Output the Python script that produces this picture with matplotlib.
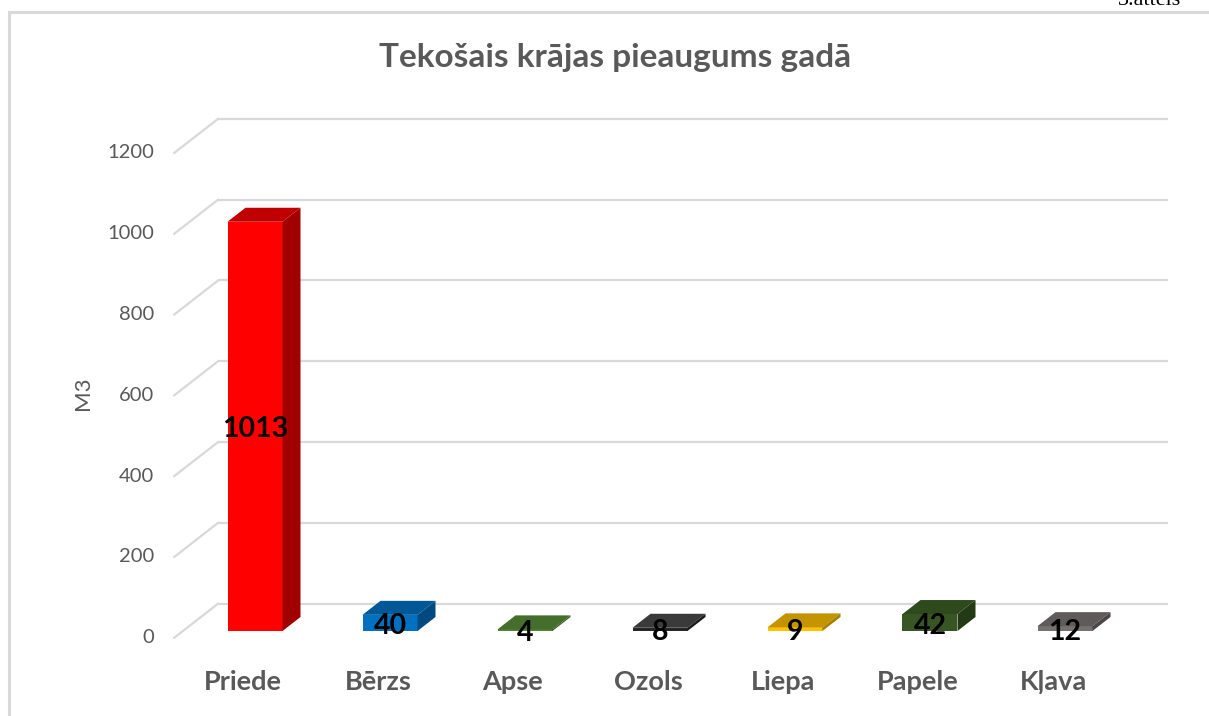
import matplotlib
matplotlib.use("Agg")
import matplotlib.pyplot as plt
from matplotlib.patches import Polygon, Rectangle

# dati
species = ["Priede", "Bērzs", "Apse", "Ozols", "Liepa", "Papele", "Kļava"]
volumes = [1013, 40, 4, 8, 9, 42, 12]
yticks = [0, 200, 400, 600, 800, 1000, 1200]

front_colors = ["#ff0000", "#0070c0", "#548235", "#262626", "#ffc000", "#375623", "#767171"]
top_colors = ["#c00000", "#005896", "#456d2b", "#3a3a3a", "#c49400", "#2e4a1d", "#5f5b5b"]
side_colors = ["#a00000", "#004a80", "#3a5c24", "#1a1a1a", "#a87f00", "#243a17", "#4a4747"]

# geometrija (pikseli -> datu vienibas)
W, H = 1209, 716
X0, STEP = 255, 135          # pirmā stabiņa centrs, solis
Y0, SCALE = 631, 0.404       # nulles līnija, px uz vienību
DX = 18 / STEP               # dziļums pa x
DY = 14 / SCALE              # dziļums pa y
BW = 55 / STEP               # stabiņa platums
D_FRONT, D_BACK = -0.48, 1.95
X_LEFT = (218 - X0) / STEP - D_BACK * DX
X_RIGHT = (1168 - X0) / STEP
GRID = "#d9d9d9"
TXT = "#595959"

plt.rcParams['font.family'] = ['Lato', 'DejaVu Sans']

fig = plt.figure(figsize=(W / 100, H / 100), dpi=100)
ax = fig.add_axes([0, 0, 1, 1])
ax.set_xlim(-X0 / STEP, (W - X0) / STEP)
ax.set_ylim((Y0 - H) / SCALE, Y0 / SCALE)
ax.axis('off')

# rāmis
fig.patches.append(Rectangle((9 / W, -0.05), 1.1, 1 - 12 / H + 0.05, transform=fig.transFigure,
                             fill=False, edgecolor=GRID, linewidth=2.2))
# augšējā labajā stūrī nogriezts paraksts (kā oriģinālā)
fig.text(1118 / W, 1 - 5 / H, "3.attēls", fontsize=16, family='Liberation Serif',
         ha='left', va='baseline', color='black')

# režģis uz aizmugurējās sienas + slīpās līnijas
for v in yticks:
    xb = X_LEFT + D_BACK * DX
    yb = v + D_BACK * DY
    ax.plot([xb, X_RIGHT], [yb, yb], color=GRID, lw=1.6, zorder=1, solid_capstyle='butt')
    ax.plot([X_LEFT + D_FRONT * DX, xb], [v + D_FRONT * DY, yb], color=GRID, lw=1.6, zorder=1)
    ax.text(X_LEFT + D_FRONT * DX - 20 / STEP, v + D_FRONT * DY, str(v), fontsize=14.5,
            color=TXT, ha='right', va='center')

ax.text(-(255 - 83) / STEP, (Y0 - 393) / SCALE, "M3", fontsize=16, color=TXT,
        rotation=90, ha='center', va='center')

# stabiņi
for i, v in enumerate(volumes):
    l, r = i - BW / 2, i + BW / 2
    ax.bar(i, v, width=BW, color=front_colors[i], zorder=3, linewidth=0)
    top = Polygon([(l, v), (r, v), (r + DX, v + DY), (l + DX, v + DY)], closed=True,
                  facecolor=top_colors[i], edgecolor='none', zorder=3)
    side = Polygon([(r, 0), (r + DX, DY), (r + DX, v + DY), (r, v)], closed=True,
                   facecolor=side_colors[i], edgecolor='none', zorder=3)
    ax.add_patch(top)
    ax.add_patch(side)
    ax.text(i, v / 2 - 3 / SCALE, str(v), fontsize=20.5, fontweight='bold', color='black',
            ha='center', va='center', zorder=5)
    ax.text(i - 12 / STEP, (Y0 - 682) / SCALE, species[i], fontsize=19.5, fontweight='bold',
            color=TXT, ha='center', va='center')

fig.text(615 / W, 1 - 58 / H, "Tekošais krājas pieaugums gadā", fontsize=24,
         fontweight='bold', color=TXT, ha='center', va='center')

fig.savefig("out.png", dpi=100)
